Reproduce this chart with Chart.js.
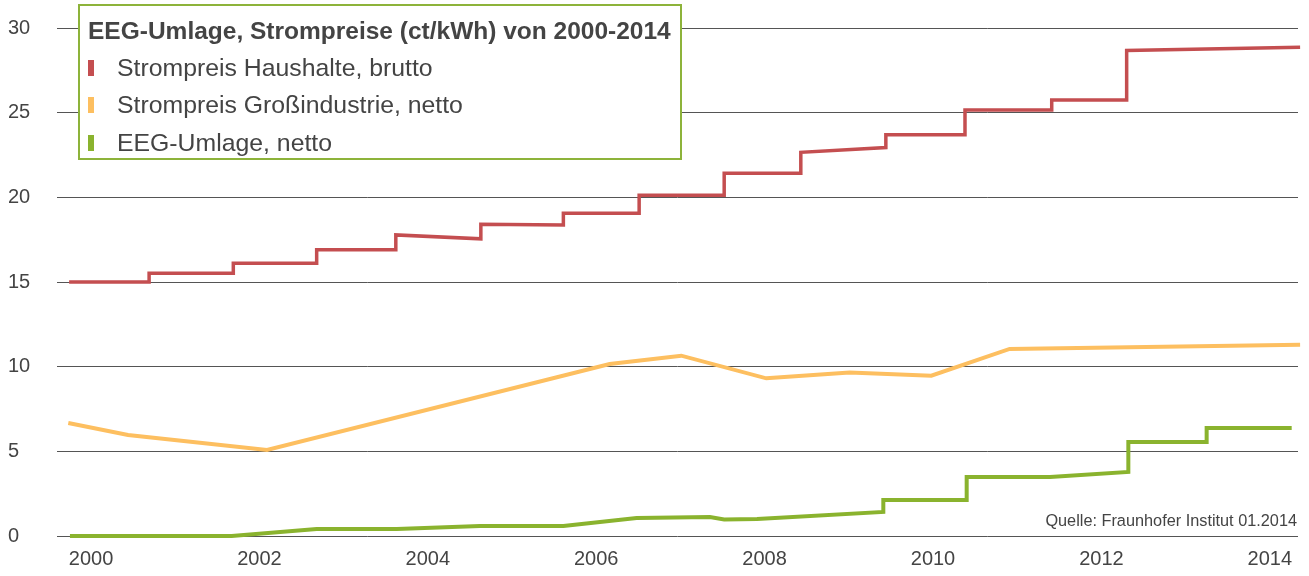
<!DOCTYPE html>
<html>
<head>
<meta charset="utf-8">
<script src="https://cdn.jsdelivr.net/npm/chart.js@4.4.0/dist/chart.umd.min.js"></script>
<style>
html, body { margin: 0; padding: 0; background: #fff; }
</style>
</head>
<body>
<canvas id="chartStrom" width="1309" height="576"></canvas>
<script>
// Beschriftungen
const legendTitle = 'EEG-Umlage, Strompreise (ct/kWh) von 2000-2014';
const seriesLabels = ['Strompreis Haushalte, brutto', 'Strompreis Großindustrie, netto', 'EEG-Umlage, netto'];
const sourceNote = 'Quelle: Fraunhofer Institut 01.2014';
const yearTicks = [2000, 2002, 2004, 2006, 2008, 2010, 2012, 2014];
const valueTicks = [0, 5, 10, 15, 20, 25, 30];

// Strompreis Haushalte (Stufen)
const haushaltYears = [1999.74, 2000.69, 2000.69, 2001.69, 2001.69, 2002.68, 2002.68, 2003.62, 2003.62, 2004.63, 2004.63, 2005.61, 2005.61, 2006.51, 2006.51, 2007.52, 2007.52, 2008.43, 2008.43, 2009.44, 2009.44, 2010.38, 2010.38, 2011.41, 2011.41, 2012.30, 2012.30, 2014.36];
const haushaltValues = [15.0, 15.0, 15.52, 15.52, 16.1, 16.1, 16.9, 16.9, 17.78, 17.55, 18.41, 18.37, 19.06, 19.06, 20.12, 20.12, 21.42, 21.42, 22.66, 22.94, 23.69, 23.69, 25.16, 25.16, 25.75, 25.75, 28.67, 28.86];

// Strompreis Großindustrie
const industrieYears = [1999.73, 2000.44, 2002.09, 2006.16, 2007.01, 2008.02, 2009.01, 2009.98, 2010.91, 2014.36];
const industrieValues = [6.67, 5.97, 5.08, 10.16, 10.65, 9.31, 9.65, 9.47, 11.05, 11.3];

// EEG-Umlage
const eegYears = [1999.75, 2001.67, 2002.68, 2003.63, 2004.62, 2005.61, 2006.48, 2007.35, 2007.52, 2007.91, 2009.41, 2009.41, 2010.40, 2010.40, 2011.39, 2012.32, 2012.32, 2013.25, 2013.25, 2014.26];
const eegValues = [0, 0, 0.41, 0.41, 0.59, 0.59, 1.06, 1.12, 0.98, 1.0, 1.42, 2.13, 2.13, 3.48, 3.48, 3.78, 5.55, 5.55, 6.38, 6.38];

const colors = ['#c44e50', '#fdbf60', '#8ab32e'];
const fontFamily = '"Liberation Sans", Arial, Helvetica, sans-serif';

function points(xs, ys) {
    return xs.map((x, i) => ({ x: x, y: ys[i] }));
}

// Legende als Kasten oben links
const legendBox = {
    id: 'legendBox',
    afterDraw(chart) {
        const ctx = chart.ctx;
        ctx.save();
        ctx.fillStyle = '#fff';
        ctx.fillRect(79, 5, 602, 154);
        ctx.strokeStyle = '#8db33a';
        ctx.lineWidth = 2;
        ctx.strokeRect(79, 5, 602, 154);

        ctx.textBaseline = 'middle';
        ctx.fillStyle = '#444';
        ctx.font = 'bold 24.5px ' + fontFamily;
        ctx.fillText(legendTitle, 88, 32);

        const rows = [68, 105, 143];
        ctx.font = '24.8px ' + fontFamily;
        chart.data.datasets.forEach((ds, i) => {
            ctx.fillStyle = ds.borderColor;
            ctx.fillRect(88, rows[i] - 8, 6, 16);
            ctx.fillStyle = '#444';
            ctx.fillText(ds.label, 117, rows[i] + 1);
        });

        ctx.font = '16.3px ' + fontFamily;
        ctx.textAlign = 'right';
        ctx.fillStyle = '#444';
        ctx.fillText(sourceNote, 1297, 522);
        ctx.restore();
    }
};

new Chart(document.getElementById('chartStrom').getContext('2d'), {
    type: 'line',
    data: {
        datasets: [{
            label: seriesLabels[0],
            data: points(haushaltYears, haushaltValues),
            borderColor: colors[0],
            borderWidth: 3.5
        }, {
            label: seriesLabels[1],
            data: points(industrieYears, industrieValues),
            borderColor: colors[1],
            borderWidth: 4
        }, {
            label: seriesLabels[2],
            data: points(eegYears, eegValues),
            borderColor: colors[2],
            borderWidth: 4
        }]
    },
    options: {
        responsive: false,
        animation: false,
        devicePixelRatio: 1,
        layout: { padding: { left: 8, right: 11, top: 28, bottom: 0 } },
        elements: {
            point: { radius: 0 },
            line: { tension: 0, fill: false, borderJoinStyle: 'miter', borderCapStyle: 'butt' }
        },
        datasets: { line: { clip: false } },
        plugins: {
            legend: { display: false },
            tooltip: { enabled: false }
        },
        scales: {
            x: {
                type: 'linear',
                min: 1999.596,
                max: 2014.335,
                grid: { display: false },
                border: { display: false },
                afterBuildTicks: (scale) => { scale.ticks = yearTicks.map(v => ({ value: v })); },
                afterFit: (scale) => { scale.height = 40; },
                ticks: {
                    padding: 3,
                    color: '#444',
                    font: { family: fontFamily, size: 20 },
                    maxRotation: 0,
                    callback: (v) => String(v)
                }
            },
            y: {
                min: 0,
                max: 30,
                grid: { color: '#555', lineWidth: 1, drawTicks: false },
                border: { display: false },
                afterBuildTicks: (scale) => { scale.ticks = valueTicks.map(v => ({ value: v })); },
                afterFit: (scale) => { scale.width = 49; },
                ticks: {
                    crossAlign: 'far',
                    padding: 0,
                    color: '#444',
                    font: { family: fontFamily, size: 20 },
                    callback: (v) => String(v)
                }
            }
        }
    },
    plugins: [legendBox]
});
</script>
</body>
</html>
